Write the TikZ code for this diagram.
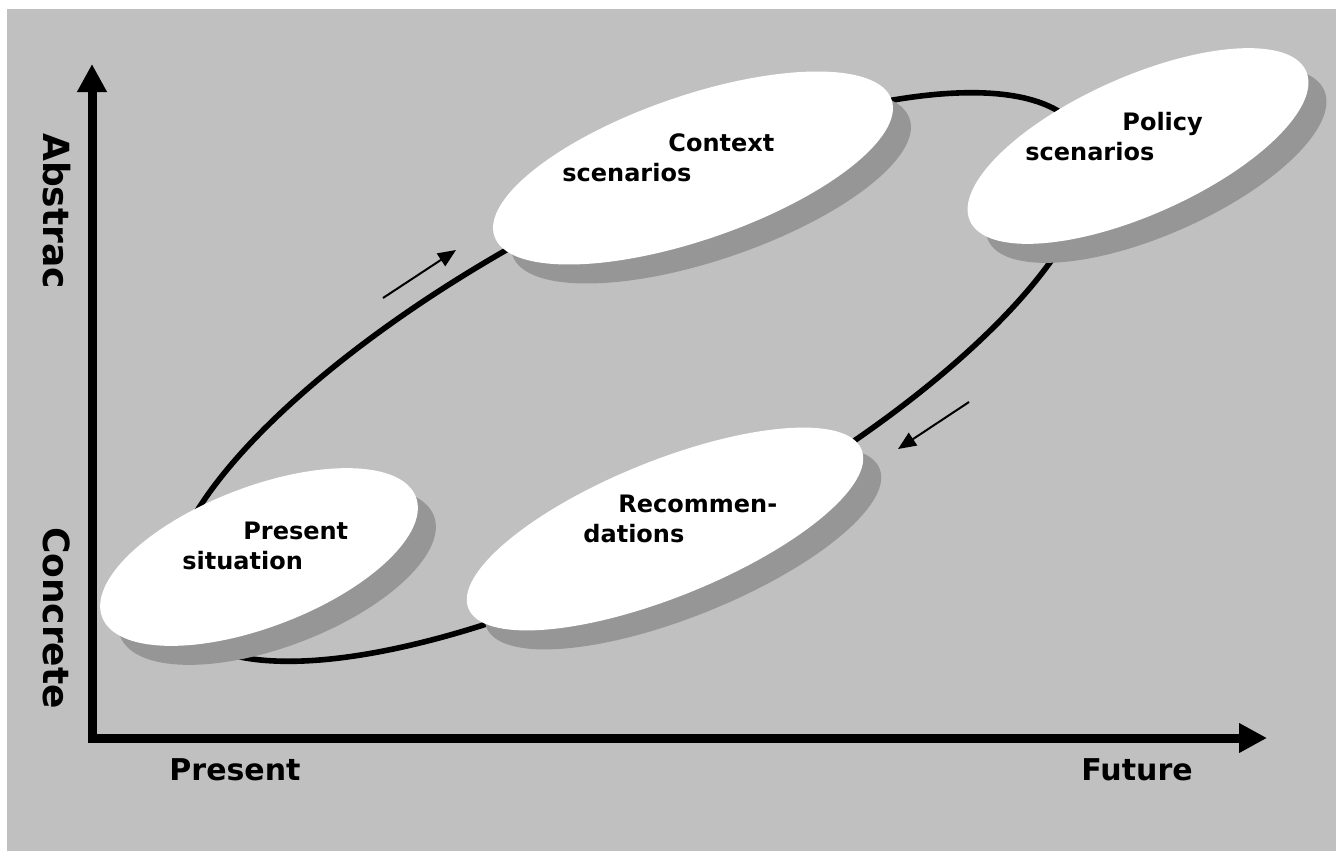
\documentclass[tikz,border=0pt]{standalone}
\usepackage{fontspec}
\setmainfont{DejaVu Sans}
\usepackage{tikz}
\usetikzlibrary{arrows.meta,shapes.geometric}
\definecolor{bggray}{HTML}{C0C0C0}
\definecolor{shadegray}{HTML}{969696}

\begin{document}
\begin{tikzpicture}[x=0.5pt,y=-0.5pt,
  axis/.style={line width=4.5pt,-{Triangle[length=14pt,width=14pt]}},
  cycleline/.style={line width=2.8pt},
  hint/.style={line width=1pt,-{Triangle[length=9pt,width=7.5pt]}},
  blob/.style n args={3}{ellipse,fill=#1,minimum width=#2pt,minimum height=#3pt,inner sep=0pt},
  lbl/.style={font=\bfseries\fontsize{12}{15}\selectfont,align=left,anchor=north west,inner sep=0pt},
  axlbl/.style={font=\bfseries\fontsize{15}{18}\selectfont,inner sep=0pt}]
\useasboundingbox (0,0) rectangle (1336,851);
\fill[bggray] (7,9) rectangle (1336,851);
% the cycle behind the stages
\coordinate (mid) at (630,377);
\draw[cycleline,rotate around={28:(mid)}] (mid) ellipse [x radius=513,y radius=171];
% stages with shadow
\foreach \n/\cx/\cy/\a/\b/\r in %
{presentsit/259/557/168/70/21,contextsc/693/168/210/72/19,policysc/1138/146/184/69/24,recomm/665/529/212/68/22} {
   \node[blob={shadegray}{\a}{\b},rotate=\r] (\n sh) at (\cx+18,\cy+19) {};
   \node[blob={white}{\a}{\b},rotate=\r] (\n) at (\cx,\cy) {};
}
\node[lbl] (presenttxt) at (182,522) {\hspace*{30.5pt}Present\\situation};
\node[lbl] (contexttxt) at (562,133) {\hspace*{53pt}Context\\scenarios};
\node[lbl] (policytxt) at (1025,112) {\hspace*{48.5pt}Policy\\scenarios};
\node[lbl] (recommtxt) at (583,495) {\hspace*{17.5pt}Recommen-\\dations};
% axes
\coordinate (orig) at (92,738);
\coordinate (ytop) at (92,64);
\coordinate (xend) at (1267,738);
\draw[axis] ([yshift=-2.25pt]orig) -- (ytop);
\draw[axis] ([xshift=-2.25pt]orig) -- (xend);
\node[axlbl,font=\bfseries\fontsize{18}{21}\selectfont,rotate=-90] (abstr) at (57,211) {Abstrac};
\node[axlbl,font=\bfseries\fontsize{18}{21}\selectfont,rotate=-90] (concr) at (57,618) {Concrete};
\node[axlbl] (now) at (235,770) {Present};
\node[axlbl] (future) at (1137,770) {Future};
% direction hints
\coordinate (h1a) at (383,298);
\coordinate (h1b) at (456,250);
\coordinate (h2a) at (969,402);
\coordinate (h2b) at (898,449);
\draw[hint] (h1a) -- (h1b);
\draw[hint] (h2a) -- (h2b);
\end{tikzpicture}
\end{document}
